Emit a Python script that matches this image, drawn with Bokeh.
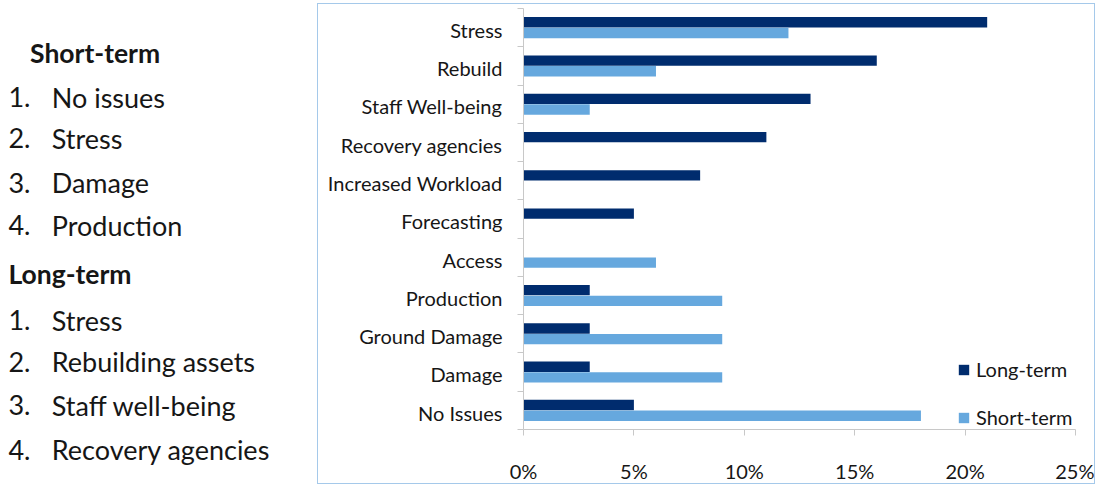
from bokeh.plotting import figure
from bokeh.models import Range1d, FixedTicker, PrintfTickFormatter, Legend, LegendItem, ColumnDataSource
from bokeh.layouts import row
from bokeh.embed import file_html
from bokeh.resources import INLINE
from bokeh.core.properties import value

# ---- data ----
categories = ["Stress", "Rebuild", "Staff Well-being", "Recovery agencies",
              "Increased Workload", "Forecasting", "Access", "Production",
              "Ground Damage", "Damage", "No Issues"]
long_term = [21, 16, 13, 11, 8, 5, 0, 3, 3, 3, 5]
short_term = [12, 6, 3, 0, 0, 0, 6, 9, 9, 9, 18]
x_ticks = [0, 5, 10, 15, 20, 25]

short_title = "Short-term"
short_list = ["No issues", "Stress", "Damage", "Production"]
long_title = "Long-term"
long_list = ["Stress", "Rebuilding assets", "Staff well-being", "Recovery agencies"]

FONT = "Lato"
DARK = "#002C6E"
LIGHT = "#66A8DE"
TXT = "#161616"
AXIS = "#c8c8c8"

SX, SY = 0.9856, 0.968

# ---- left text panel ----
LW, H = 317, 486
left = figure(frame_width=LW, frame_height=H, x_range=Range1d(0, LW), y_range=Range1d(H, 0),
              output_backend="svg", toolbar_location=None, title=None,
              x_axis_type=None, y_axis_type=None, min_border=0)
left.outline_line_color = None
left.xgrid.visible = False
left.ygrid.visible = False

rows_y_short = [96, 138, 184, 228]
rows_y_long = [326, 369, 414, 460]
left.text(x=[30 * SX], y=[50 * SY], text=[short_title], text_font=value(FONT),
          text_font_style="bold", text_font_size="26.5px", text_color=TXT,
          text_baseline="middle")
left.text(x=[8 * SX], y=[278 * SY], text=[long_title], text_font=value(FONT),
          text_font_style="bold", text_font_size="26.5px", text_color=TXT,
          text_baseline="middle")
for ys_ref, items in ((rows_y_short, short_list), (rows_y_long, long_list)):
    ys = [v * SY for v in ys_ref]
    left.text(x=[8 * SX] * len(items), y=ys, text=[f"{i + 1}." for i in range(len(items))],
              text_font=value(FONT), text_font_size="27px", text_color=TXT,
              text_baseline="middle")
    left.text(x=[52 * SX] * len(items), y=ys, text=items,
              text_font=value(FONT), text_font_size="27px", text_color=TXT,
              text_baseline="middle")

# ---- right bar chart ----
n = len(categories)
pos = [n - 1 - i for i in range(n)]
off = 0.14
bh = 0.27
src = ColumnDataSource(dict(
    y_long=[p_ + off for p_ in pos], y_short=[p_ - off for p_ in pos],
    long=long_term, short=short_term))

p = figure(width=778, height=481, x_range=Range1d(0, 25), y_range=Range1d(-0.5, n - 0.5),
           output_backend="svg", toolbar_location=None,
           min_border_left=205, min_border_right=21, min_border_top=4, min_border_bottom=47)
p.styles = {"border": "1px solid #A5C9EA", "margin-top": "3px"}
p.outline_line_color = None
p.xgrid.visible = False
p.ygrid.visible = False

r_long = p.hbar(y="y_long", right="long", left=0, height=bh, source=src,
                fill_color=DARK, line_color=None)
r_short = p.hbar(y="y_short", right="short", left=0, height=bh, source=src,
                 fill_color=LIGHT, line_color=None)

p.xaxis.ticker = FixedTicker(ticks=x_ticks)
p.xaxis.formatter = PrintfTickFormatter(format="%d%%")
p.xaxis.major_tick_out = 6
p.xaxis.major_tick_in = 0
p.xaxis.minor_tick_out = 0
p.xaxis.minor_tick_in = 0
p.xaxis.major_label_standoff = 23
p.xaxis.axis_line_color = AXIS
p.xaxis.major_tick_line_color = AXIS
p.xaxis.major_label_text_font = FONT
p.xaxis.major_label_text_font_size = "20px"
p.xaxis.major_label_text_color = TXT

label_shift = 0.06
label_pos = [p_ - label_shift for p_ in pos]
p.yaxis.ticker = FixedTicker(ticks=label_pos, minor_ticks=[k - 0.5 for k in range(n + 1)])
p.yaxis.major_label_overrides = {lp: c for lp, c in zip(label_pos, categories)}
p.yaxis.major_tick_out = 0
p.yaxis.major_tick_in = 0
p.yaxis.minor_tick_out = 6
p.yaxis.minor_tick_in = 0
p.yaxis.major_label_standoff = 15
p.yaxis.axis_line_color = AXIS
p.yaxis.minor_tick_line_color = AXIS
p.yaxis.major_label_text_font = FONT
p.yaxis.major_label_text_font_size = "20px"
p.yaxis.major_label_text_color = TXT

legend = Legend(items=[LegendItem(label="Long-term", renderers=[r_long]),
                       LegendItem(label="Short-term", renderers=[r_short])],
                location=(434, 0), orientation="vertical",
                label_text_font=FONT, label_text_font_size="20px", label_text_color=TXT,
                glyph_width=13, glyph_height=13, label_standoff=6,
                spacing=24, padding=0, margin=0,
                border_line_color=None, background_fill_alpha=0)
p.add_layout(legend)

layout = row(left, p)
open("out.html", "w").write(file_html(layout, INLINE))
